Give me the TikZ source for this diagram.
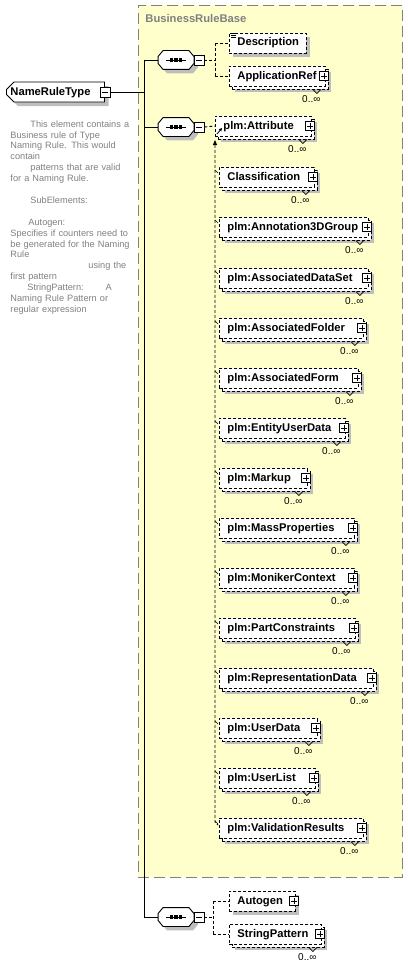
\documentclass[tikz,border=0pt]{standalone}
\usepackage{fontspec}
\setmainfont{Liberation Sans}
\usetikzlibrary{shapes.misc,shadows,arrows.meta}
\hyphenpenalty=10000
\definecolor{grpfill}{RGB}{255,255,204}
\definecolor{shadowc}{RGB}{190,190,190}
\definecolor{greytext}{RGB}{128,128,128}
\tikzset{
  lbl/.style={font=\bfseries\fontsize{11.2}{13}\selectfont},
  elshadow/.style={drop shadow={shadow xshift=4pt,shadow yshift=-4pt,fill=shadowc,opacity=1}},
  dsh/.style={dash pattern=on 3pt off 2pt},
  elbox/.style={draw, dsh, fill=white, lbl, anchor=west, minimum height=20pt,
     inner xsep=8pt, inner ysep=0pt, align=left, text height=8.5pt, text depth=2.5pt, elshadow},
  multibox/.style={drop shadow={shadow xshift=6pt,shadow yshift=-6pt,fill=shadowc,opacity=1},
     copy shadow={shadow xshift=3pt,shadow yshift=-3pt,draw=black,fill=white,dsh}},
  occ/.style={font=\fontsize{10}{11}\selectfont, inner sep=0pt, anchor=east},
  plusbox/.style={draw, solid, fill=white, minimum size=9pt, inner sep=0pt, line width=0.8pt,
     path picture={\draw[line width=0.8pt] ([xshift=1.8pt]path picture bounding box.west) -- ([xshift=-1.8pt]path picture bounding box.east)
        ([yshift=-1.8pt]path picture bounding box.north) -- ([yshift=1.8pt]path picture bounding box.south);}},
  minusbox/.style={draw, solid, fill=white, minimum size=10pt, inner sep=0pt, line width=0.8pt,
     path picture={\draw[line width=0.8pt] ([xshift=2pt]path picture bounding box.west) -- ([xshift=-2pt]path picture bounding box.east);}},
  seqbase/.style={minimum width=35pt, minimum height=18pt, inner sep=0pt},
  octo/.style={draw, solid, fill=white, elshadow},
  conn/.style={draw, solid},
  dconn/.style={draw, dsh},
  tick/.style={draw, solid, line width=0.6pt},
  notch/.style={draw, solid, line width=0.7pt},
  desctext/.style={anchor=north west, inner sep=0pt, text width=140pt, align=left, text=greytext,
     font=\fontsize{9.2}{10.9}\selectfont},
}
\begin{document}
\begin{tikzpicture}[x=1pt,y=-1pt,line width=0.9pt]
\useasboundingbox (0,0) rectangle (407,966);
% group box
\node[draw=greytext, dash pattern=on 11pt off 5pt, fill=grpfill, minimum width=264pt, minimum height=872pt,
  anchor=north west, inner sep=0pt] (grp) at (138,5) {};
\node[lbl, text=greytext, anchor=west, inner sep=0pt] (grpl) at (145,18) {BusinessRuleBase};

% root element
\node[chamfered rectangle, chamfered rectangle corners={north west,south west}, chamfered rectangle xsep=4pt,
  draw, solid, fill=white, lbl, anchor=west, minimum height=20pt, minimum width=96pt,
  text height=8.5pt, text depth=2.5pt, inner xsep=0pt, inner ysep=0pt, elshadow] (nrt) at (6,92) {NameRuleType\hspace*{10pt}};
\node[minusbox] (nrtm) at (nrt.east) {};

% description
\node[desctext] (desc) at (10,120) {%
\hspace*{20pt}This element contains a\\
Business rule of Type\\
Naming Rule. This would\\
contain\\
\hspace*{20pt}patterns that are valid\\
for a Naming Rule.\\
~\\
\hspace*{20pt}SubElements:\\
~\\
\hspace*{18pt}Autogen:\\
Specifies if counters need to\\
be generated for the Naming\\
Rule\\
\hspace*{78pt}using the\\
first pattern\\
\hspace*{17pt}StringPattern:\hspace*{22pt}A\\
Naming Rule Pattern or\\
regular expression};

% trunk and sequences
\coordinate (tkA) at (144,60);
\coordinate (tkB) at (144,917);
\draw[conn] (nrtm.east) -- (nrtm.east -| tkA);
\draw[conn] (tkA) -- (tkB);
\node[seqbase] (sq1) at (176,60) {};
\node[seqbase] (sq2) at (176,127) {};
\node[seqbase] (sq3) at (176,917) {};
\draw[conn] (tkA) -- (sq1.west);
\draw[conn] (sq2.west -| tkA) -- (sq2.west);
\draw[conn] (tkB) -- (sq3.west);
\foreach \s in {sq1,sq2,sq3}{
  \path[octo] ([xshift=5pt]\s.north west) -- ([xshift=-5pt]\s.north east) -- ([yshift=-6pt]\s.north east)
     -- ([yshift=6pt]\s.south east) -- ([xshift=-5pt]\s.south east) -- ([xshift=5pt]\s.south west)
     -- ([yshift=6pt]\s.south west) -- ([yshift=-6pt]\s.north west) -- cycle;
  \draw[solid, line width=0.8pt] ([xshift=-10pt]\s.center) -- ([xshift=10pt]\s.center);
  \foreach \dx in {-4.5,0,4.5}
    \fill ([xshift=\dx pt]\s.center) +(-1.6,-1.6) rectangle +(1.6,1.6);
  \node[minusbox] (\s m) at ([xshift=5pt]\s.east) {};
}

% first sequence
\node[elbox, text width=61pt] (dsc) at (229,43) {Description};
\foreach \dy in {0.5,2.5,4.5}
  \draw[solid, line width=0.6pt] ([xshift=2pt,yshift=-\dy pt]dsc.north west) -- ++(5,0);
\node[elbox, multibox, text width=80pt] (app) at (229,76) {ApplicationRef};
\coordinate (br1) at (215,60);
\draw[dconn] (sq1m.east) -- (br1);
\draw[dconn] (dsc.west -| br1) -- (app.west -| br1);
\draw[dconn] (dsc.west -| br1) -- (dsc.west);
\draw[dconn] (app.west -| br1) -- (app.west);

% second sequence: substitution group
\node[elbox, multibox, text width=80pt] (att) at (215,126) {plm:Attribute};
\draw[dconn] (sq2m.east) -- (att.west);
\foreach \nm/\tx/\cy/\rx in {
  cls/Classification/177/314,
  ann/plm:Annotation3DGroup/227/368,
  ads/plm:AssociatedDataSet/278/368,
  afo/plm:AssociatedFolder/328/363,
  afm/plm:AssociatedForm/378/358,
  eud/plm:EntityUserData/428/345,
  mku/plm:Markup/478/307,
  msp/plm:MassProperties/528/354,
  mon/plm:MonikerContext/578/354,
  pcn/plm:PartConstraints/628/355,
  rep/plm:RepresentationData/678/373,
  usd/plm:UserData/728/317,
  usl/plm:UserList/778/315,
  val/plm:ValidationResults/828/363}{
  \pgfmathsetmacro\tw{\rx-219-16}
  \node[elbox, multibox, text width=\tw pt] (\nm) at (219,\cy) {\mbox{\tx}};
  \draw[tick] ([xshift=-4pt,yshift=7pt]\nm.west) -- ([xshift=-1pt,yshift=4pt]\nm.west);
}
\coordinate (sgtop) at (215,140);
\coordinate (sgbot) at (215,822);
\draw[dconn, {Triangle[length=5pt,width=4pt]}-] (sgtop) -- (sgbot) -- ([xshift=-1pt,yshift=3pt]val.west);
\draw[solid, line width=0.8pt, -{Triangle[length=3pt,width=3pt]}] ([xshift=2pt,yshift=-8pt]att.west) -- ([xshift=7pt,yshift=-2pt]att.west);

% third sequence
\node[elbox, text width=50pt] (aut) at (229,901) {Autogen};
\node[elbox, multibox, text width=76pt] (stp) at (229,934) {StringPattern};
\coordinate (br3) at (213,917);
\draw[dconn] (sq3m.east) -- (br3);
\draw[dconn] (aut.west -| br3) -- (stp.west -| br3);
\draw[dconn] (aut.west -| br3) -- (aut.west);
\draw[dconn] (stp.west -| br3) -- (stp.west);

% plus boxes
\foreach \nm in {app,att,cls,ann,ads,afo,afm,eud,mku,msp,mon,pcn,rep,usd,usl,val,aut,stp}
  \node[plusbox] (\nm p) at ([xshift=-2pt]\nm.east) {};
% occurrence marks
\foreach \nm in {app,att,cls,ann,ads,afo,afm,eud,mku,msp,mon,pcn,rep,usd,usl,val,stp}{
  \draw[notch] ([xshift=-13pt,yshift=-3pt]\nm.south east) -- ++(4,4) -- ++(4,-4);
  \node[occ] (\nm o) at ([xshift=-5pt,yshift=-23pt]\nm.east) {0..∞};
}
\end{tikzpicture}
\end{document}
